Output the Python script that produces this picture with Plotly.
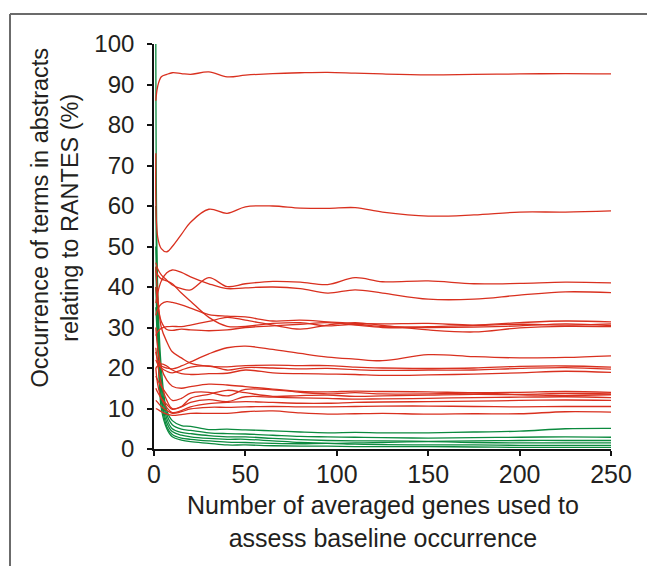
import plotly.graph_objects as go

# x: number of averaged genes
genes = [1, 2, 4, 7, 10, 15, 20, 30, 40, 50, 65, 80, 95, 110, 125, 150, 175, 200, 225, 250]

# red series (terms related to RANTES)
red_01 = [86, 89.5, 91.9, 92.5, 92.9, 92.7, 92.5, 93.1, 91.9, 92.3, 92.7, 92.9, 93.0, 92.8, 92.6, 92.4, 92.5, 92.6, 92.7, 92.6]
red_02 = [73, 52.4, 49.5, 48.7, 50.0, 53.0, 56.0, 59.2, 58.2, 59.8, 60.0, 59.5, 59.4, 59.6, 58.5, 57.5, 57.8, 58.5, 58.5, 58.8]
red_03 = [46, 44.5, 43, 41.7, 40.5, 39.6, 39.3, 42.3, 40.1, 40.8, 41.4, 41.2, 40.6, 42.3, 41.3, 41.5, 40.8, 40.9, 41.2, 41.0]
red_04 = [36, 38.5, 41.5, 43.5, 44.2, 43.6, 42.5, 40.8, 39.6, 39.8, 40.0, 39.6, 38.5, 39.3, 38.5, 37.0, 37.0, 38.0, 38.8, 38.6]
red_05 = [44, 43, 42, 41.5, 40.8, 38.5, 36.5, 32.5, 30.3, 30.3, 31.0, 31.2, 30.4, 30.8, 30.2, 30.2, 30.5, 30.8, 30.6, 30.9]
red_06 = [33, 34.5, 35.8, 36.4, 36.2, 35.6, 34.8, 33.2, 32.8, 32.6, 31.6, 31.8, 31.4, 31.0, 30.9, 31.0, 30.6, 31.2, 31.6, 31.4]
red_07 = [28, 29, 29.8, 30.2, 30.3, 30.2, 30.6, 31.5, 32.5, 31.8, 30.6, 29.6, 30.6, 31.2, 30.5, 29.4, 28.9, 29.9, 30.3, 30.2]
red_08 = [40, 36, 31.5, 29.5, 29.3, 29.6, 29.4, 29.2, 29.4, 30.0, 30.4, 30.8, 31.2, 30.6, 30.0, 30.0, 30.1, 30.4, 30.9, 30.5]
red_09 = [24, 22, 20.5, 20, 19.8, 20.5, 21.5, 23.5, 25.0, 25.4, 24.6, 23.6, 22.7, 22.2, 21.8, 23.3, 22.8, 22.5, 22.6, 23.0]
red_10 = [45, 38, 30, 26.5, 24, 22.5, 21.2, 20.4, 20.3, 20.6, 20.7, 20.6, 20.6, 20.2, 20.0, 19.9, 20.0, 20.4, 20.5, 20.2]
red_11 = [22, 21, 20, 19.2, 18.8, 19.5, 20.2, 20.5, 19.5, 20.1, 20.0, 19.8, 19.9, 19.6, 19.4, 19.5, 19.5, 19.9, 20.1, 19.7]
red_12 = [20, 20.5, 21, 20.5, 19.5, 18.6, 18.4, 18.6, 18.7, 19.5, 18.8, 18.6, 18.5, 18.4, 18.2, 18.3, 18.5, 18.8, 19.2, 18.9]
red_13 = [30, 25, 20, 17, 15.5, 15.0, 15.4, 16.0, 15.8, 15.4, 14.8, 14.2, 14.1, 14.3, 14.2, 14.1, 13.9, 14.0, 14.2, 14.0]
red_14 = [18, 17, 15.5, 13.5, 12.0, 12.5, 13.8, 14.0, 13.1, 14.7, 14.6, 14.0, 13.6, 13.9, 13.6, 13.6, 13.8, 13.5, 13.7, 13.6]
red_15 = [25, 21, 16, 12, 10.0, 10.5, 12.5, 13.5, 14.5, 13.9, 13.0, 13.2, 13.3, 13.0, 13.1, 13.3, 13.5, 13.4, 13.2, 13.4]
red_16 = [15, 14, 12.5, 11, 9.8, 10.4, 11.5, 12.2, 11.7, 12.9, 12.8, 12.6, 12.5, 12.3, 12.4, 12.5, 12.7, 12.8, 12.9, 12.7]
red_17 = [20, 16, 12.5, 10.2, 9.0, 9.5, 10.4, 11.2, 11.5, 11.7, 11.5, 11.3, 11.3, 11.5, 11.6, 11.7, 11.8, 12.0, 12.1, 12.0]
red_18 = [12, 11.5, 10.5, 9.5, 8.8, 9.2, 9.9, 10.3, 10.3, 10.4, 10.5, 10.4, 10.4, 10.5, 10.6, 10.6, 10.5, 10.4, 10.5, 10.5]
red_19 = [10, 9.8, 9.2, 8.6, 8.3, 8.5, 8.8, 8.8, 8.8, 9.2, 9.4, 8.9, 8.6, 8.7, 8.8, 8.6, 8.7, 8.7, 9.2, 9.1]

# green series (control terms)
green_01 = [100, 40, 20, 9.5, 7.0, 5.8, 5.6, 4.8, 4.9, 4.7, 4.5, 4.2, 4.0, 4.1, 4.0, 4.0, 4.2, 4.4, 5.0, 5.1]
green_02 = [60, 35, 17, 8.5, 6.0, 4.9, 4.6, 4.0, 3.8, 3.7, 3.4, 3.1, 3.0, 2.9, 2.8, 2.7, 2.8, 2.9, 3.0, 2.9]
green_03 = [50, 32, 15, 7.5, 5.0, 4.1, 3.8, 3.3, 3.0, 3.0, 2.6, 2.3, 2.1, 2.0, 2.0, 1.9, 2.0, 2.1, 2.1, 2.1]
green_04 = [45, 30, 13, 6.5, 4.3, 3.4, 3.0, 2.6, 2.4, 2.4, 2.0, 1.6, 1.4, 1.5, 1.6, 1.8, 1.6, 1.5, 1.5, 1.5]
green_05 = [40, 28, 12, 5.5, 3.6, 2.7, 2.4, 2.0, 1.7, 1.6, 1.4, 1.3, 1.4, 1.2, 1.1, 1.0, 1.0, 0.9, 0.9, 0.9]
green_06 = [35, 26, 10, 5.0, 3.0, 2.2, 1.8, 1.4, 1.0, 1.0, 0.8, 0.7, 0.7, 0.6, 0.6, 0.6, 0.5, 0.4, 0.4, 0.4]

x_ticks = [0, 50, 100, 150, 200, 250]
y_ticks = [0, 10, 20, 30, 40, 50, 60, 70, 80, 90, 100]

red_lines = [red_01, red_02, red_03, red_04, red_05, red_06, red_07, red_08, red_09, red_10,
             red_11, red_12, red_13, red_14, red_15, red_16, red_17, red_18, red_19]
green_lines = [green_01, green_02, green_03, green_04, green_05, green_06]

RED = "#d9301f"
GREEN = "#0b8a3e"
FONT = "Liberation Sans, Arial, Helvetica, sans-serif"
TXT = "#231f20"

fig = go.Figure()
for ys in green_lines:
    fig.add_trace(go.Scatter(x=genes, y=ys, mode="lines",
                             line=dict(color=GREEN, width=1.3, shape="spline", smoothing=1.0),
                             showlegend=False, hoverinfo="skip"))
for ys in red_lines:
    fig.add_trace(go.Scatter(x=genes, y=ys, mode="lines",
                             line=dict(color=RED, width=1.3, shape="spline", smoothing=1.0),
                             showlegend=False, hoverinfo="skip"))

W, H = 647, 566
L, R, T, B = 154, 36, 44, 117
pw, ph = W - L - R, H - T - B

def px_x(p):
    return (p - L) / pw

def px_y(p):
    return (H - B - p) / ph

fig.update_layout(
    width=W, height=H,
    margin=dict(l=L, r=R, t=T, b=B, pad=0),
    paper_bgcolor="white", plot_bgcolor="white",
    font=dict(family=FONT, size=24, color=TXT),
    xaxis=dict(range=[0, 250], tickvals=x_ticks, ticks="outside", ticklen=5, tickwidth=1.5,
               tickcolor="#111", showline=True, linecolor="#111", linewidth=1.6,
               showgrid=False, zeroline=False, tickfont=dict(size=25, color=TXT, family=FONT),
               ticklabelstandoff=-3),
    yaxis=dict(range=[0, 100], tickvals=y_ticks, ticks="outside", ticklen=5, tickwidth=1.5,
               tickcolor="#111", showline=True, linecolor="#111", linewidth=1.6,
               showgrid=False, zeroline=False, tickfont=dict(size=24, color=TXT, family=FONT),
               ticklabelstandoff=8),
    shapes=[
        dict(type="line", xref="paper", yref="paper", x0=px_x(10), x1=px_x(660),
             y0=px_y(14), y1=px_y(14), line=dict(color="#6b6b6b", width=2)),
        dict(type="line", xref="paper", yref="paper", x0=px_x(10), x1=px_x(10),
             y0=px_y(14), y1=px_y(580), line=dict(color="#6b6b6b", width=2)),
    ],
    annotations=[
        dict(text="Number of averaged genes used to<br>assess baseline occurrence",
             xref="paper", yref="paper", x=0.5, y=px_y(489), xanchor="center", yanchor="top",
             showarrow=False, font=dict(size=25, color=TXT, family=FONT)),
        dict(text="Occurrence of terms in abstracts<br>relating to RANTES (%)",
             xref="paper", yref="paper", x=px_x(25), y=px_y(218), xanchor="left", yanchor="middle",
             textangle=-90, showarrow=False, font=dict(size=23.5, color=TXT, family=FONT)),
    ],
)

fig.write_html("out.html")
